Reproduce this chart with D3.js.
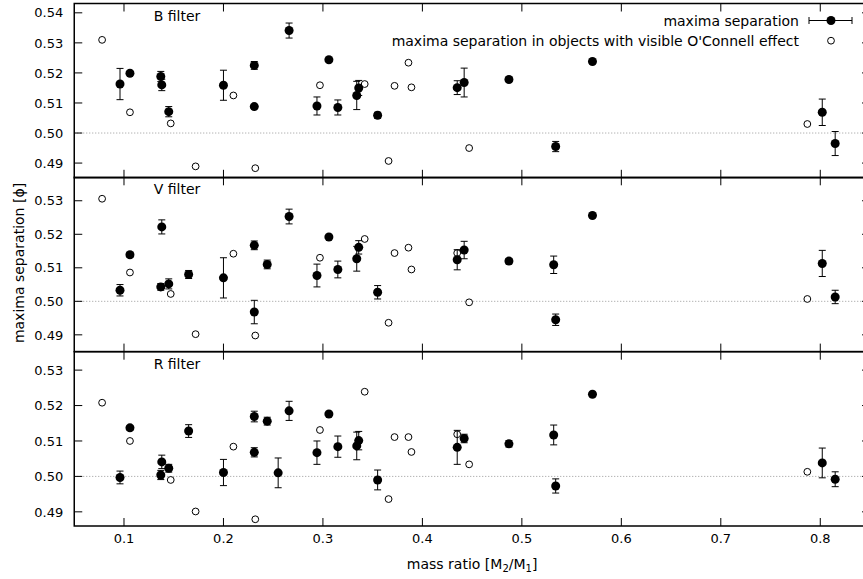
<!DOCTYPE html>
<html><head><meta charset="utf-8">
<script src="https://cdn.jsdelivr.net/npm/d3@7"></script>
<style>body{margin:0;background:#fff}svg{display:block}text{font-family:"DejaVu Sans",Verdana,sans-serif;font-size:14px;fill:#000}text.tick{font-size:13px}</style>
</head><body><svg id="c" width="863" height="579"></svg>
<script>
// ---- data ----
const bX   = [0.096,0.106,0.137,0.138,0.145,0.200,0.231,0.231,0.266,0.294,0.306,0.315,0.334,0.336,0.355,0.435,0.442,0.487,0.534,0.571,0.802,0.815];
const bY   = [0.5163,0.5199,0.5188,0.5160,0.5071,0.5159,0.5225,0.5088,0.5341,0.5090,0.5244,0.5085,0.5125,0.5150,0.5059,0.5151,0.5168,0.5178,0.4955,0.5238,0.5069,0.4965];
const bErr = [0.0052,0.0005,0.0017,0.0019,0.0017,0.0050,0.0013,0.0006,0.0025,0.0030,0.0004,0.0025,0.0047,0.0025,0.0010,0.0023,0.0048,0.0005,0.0017,0.0004,0.0044,0.0040];
const bOX  = [0.078,0.106,0.147,0.172,0.210,0.232,0.297,0.342,0.366,0.372,0.386,0.389,0.447,0.787];
const bOY  = [0.5310,0.5069,0.5032,0.4889,0.5125,0.4883,0.5159,0.5163,0.4907,0.5157,0.5234,0.5152,0.4950,0.5030];

const vX   = [0.096,0.106,0.138,0.137,0.145,0.165,0.200,0.231,0.244,0.231,0.266,0.294,0.306,0.315,0.334,0.336,0.355,0.435,0.442,0.487,0.532,0.534,0.571,0.802,0.815];
const vY   = [0.5033,0.5139,0.5222,0.5043,0.5052,0.5080,0.5070,0.5167,0.5110,0.4968,0.5253,0.5077,0.5192,0.5095,0.5127,0.5161,0.5027,0.5124,0.5153,0.5120,0.5109,0.4945,0.5256,0.5113,0.5013];
const vErr = [0.0017,0.0007,0.0021,0.0010,0.0015,0.0012,0.0060,0.0013,0.0013,0.0035,0.0022,0.0034,0.0004,0.0025,0.0037,0.0020,0.0020,0.0030,0.0026,0.0008,0.0026,0.0017,0.0004,0.0039,0.0020];
const vOX  = [0.078,0.106,0.147,0.172,0.210,0.232,0.297,0.342,0.366,0.372,0.386,0.389,0.435,0.447,0.787];
const vOY  = [0.5306,0.5086,0.5022,0.4902,0.5142,0.4898,0.5130,0.5186,0.4936,0.5144,0.5160,0.5095,0.5144,0.4997,0.5007];

const rX   = [0.096,0.106,0.138,0.137,0.145,0.165,0.200,0.231,0.244,0.231,0.255,0.266,0.294,0.306,0.315,0.334,0.336,0.355,0.435,0.442,0.487,0.532,0.534,0.571,0.802,0.815];
const rY   = [0.4997,0.5137,0.5041,0.5004,0.5023,0.5128,0.5011,0.5169,0.5156,0.5068,0.5010,0.5185,0.5067,0.5176,0.5084,0.5086,0.5101,0.4990,0.5082,0.5107,0.5092,0.5117,0.4973,0.5232,0.5038,0.4992];
const rErr = [0.0018,0.0006,0.0019,0.0013,0.0011,0.0018,0.0037,0.0015,0.0011,0.0013,0.0042,0.0027,0.0033,0.0004,0.0030,0.0039,0.0026,0.0028,0.0048,0.0012,0.0009,0.0028,0.0020,0.0004,0.0042,0.0021];
const rOX  = [0.078,0.106,0.147,0.172,0.210,0.232,0.297,0.342,0.366,0.372,0.386,0.389,0.435,0.447,0.787];
const rOY  = [0.5208,0.5100,0.4990,0.4901,0.5084,0.4879,0.5131,0.5239,0.4936,0.5111,0.5111,0.5069,0.5119,0.5034,0.5013];

const xTicks = [0.1,0.2,0.3,0.4,0.5,0.6,0.7,0.8];
const panelNames = ["B filter","V filter","R filter"];
const panelDomains = [[0.4851,0.5431],[0.4850,0.5370],[0.4860,0.5352]];
const panelYTicks = [[0.49,0.50,0.51,0.52,0.53,0.54],[0.49,0.50,0.51,0.52,0.53],[0.49,0.50,0.51,0.52,0.53]];
const legendLabels = ["maxima separation","maxima separation in objects with visible O'Connell effect"];

// ---- drawing ----
const svg = d3.select("#c");
const L = 74.25, R = 870;
const panelTops = [3.5, 177.3, 351.7], panelH = 174.3;
const x = d3.scaleLinear().domain([0.05,0.85]).range([L,R]);
const fmt = d3.format(".2f");
const panels = [
  {fx:bX,fy:bY,fe:bErr,ox:bOX,oy:bOY},
  {fx:vX,fy:vY,fe:vErr,ox:vOX,oy:vOY},
  {fx:rX,fy:rY,fe:rErr,ox:rOX,oy:rOY}
];
const tickLen = 8;

panels.forEach((p,i)=>{
  const top = panelTops[i], bot = top+panelH;
  const y = d3.scaleLinear().domain(panelDomains[i]).range([bot,top]);
  const g = svg.append("g");
  g.append("line").attr("x1",L).attr("x2",R).attr("y1",y(0.5)).attr("y2",y(0.5))
    .attr("stroke","#999").attr("stroke-width",1).attr("stroke-dasharray","1,2");
  panelYTicks[i].forEach(t=>{
    g.append("line").attr("x1",L).attr("x2",L+tickLen).attr("y1",y(t)).attr("y2",y(t)).attr("stroke","#000");
    g.append("line").attr("x1",R-tickLen).attr("x2",R).attr("y1",y(t)).attr("y2",y(t)).attr("stroke","#000");
    g.append("text").attr("class","tick").attr("x",L-11).attr("y",y(t)).attr("dy","0.36em").attr("text-anchor","end").text(fmt(t));
  });
  xTicks.forEach(t=>{
    g.append("line").attr("x1",x(t)).attr("x2",x(t)).attr("y1",top).attr("y2",top+tickLen).attr("stroke","#000");
    g.append("line").attr("x1",x(t)).attr("x2",x(t)).attr("y1",bot-tickLen).attr("y2",bot).attr("stroke","#000");
  });
  g.append("rect").attr("x",L).attr("y",top).attr("width",R-L).attr("height",panelH)
    .attr("fill","none").attr("stroke","#000").attr("stroke-width",1.5);
  g.append("text").attr("x",177).attr("y",top+17).attr("text-anchor","middle").text(panelNames[i]);
  g.selectAll("circle.o").data(d3.range(p.ox.length)).join("circle").attr("class","o")
    .attr("cx",j=>x(p.ox[j])).attr("cy",j=>y(p.oy[j])).attr("r",3.4)
    .attr("fill","#fff").attr("stroke","#000").attr("stroke-width",1);
  const eb = g.selectAll("g.eb").data(d3.range(p.fx.length)).join("g").attr("class","eb");
  eb.append("line").attr("x1",j=>x(p.fx[j])).attr("x2",j=>x(p.fx[j]))
    .attr("y1",j=>y(p.fy[j]-p.fe[j])).attr("y2",j=>y(p.fy[j]+p.fe[j])).attr("stroke","#000");
  eb.append("line").attr("x1",j=>x(p.fx[j])-3.5).attr("x2",j=>x(p.fx[j])+3.5)
    .attr("y1",j=>y(p.fy[j]-p.fe[j])).attr("y2",j=>y(p.fy[j]-p.fe[j])).attr("stroke","#000");
  eb.append("line").attr("x1",j=>x(p.fx[j])-3.5).attr("x2",j=>x(p.fx[j])+3.5)
    .attr("y1",j=>y(p.fy[j]+p.fe[j])).attr("y2",j=>y(p.fy[j]+p.fe[j])).attr("stroke","#000");
  eb.append("circle").attr("cx",j=>x(p.fx[j])).attr("cy",j=>y(p.fy[j])).attr("r",4.5).attr("fill","#000");
});

const bottom = panelTops[2]+panelH;
xTicks.forEach(t=>{
  svg.append("text").attr("class","tick").attr("x",x(t)).attr("y",bottom+17).attr("text-anchor","middle").text(d3.format(".1f")(t));
});
const xl = svg.append("text").attr("x",(L+R)/2).attr("y",569).attr("text-anchor","middle");
xl.append("tspan").text("mass ratio [M");
xl.append("tspan").attr("font-size","10px").attr("dy",3).text("2");
xl.append("tspan").attr("dy",-3).text("/M");
xl.append("tspan").attr("font-size","10px").attr("dy",3).text("1");
xl.append("tspan").attr("dy",-3).text("]");
svg.append("text").attr("transform","translate(24,263) rotate(-90)").attr("text-anchor","middle").text("maxima separation [ϕ]");

svg.append("text").attr("x",799).attr("y",25.5).attr("text-anchor","end").text(legendLabels[0]);
svg.append("text").attr("x",799).attr("y",45.5).attr("text-anchor","end").text(legendLabels[1]);
svg.append("line").attr("x1",809).attr("x2",852).attr("y1",20.5).attr("y2",20.5).attr("stroke","#000");
svg.append("line").attr("x1",809).attr("x2",809).attr("y1",17).attr("y2",24).attr("stroke","#000");
svg.append("line").attr("x1",852).attr("x2",852).attr("y1",17).attr("y2",24).attr("stroke","#000");
svg.append("circle").attr("cx",831).attr("cy",20.5).attr("r",4.5).attr("fill","#000");
svg.append("circle").attr("cx",831).attr("cy",40.7).attr("r",3.4).attr("fill","#fff").attr("stroke","#000");
</script></body></html>
